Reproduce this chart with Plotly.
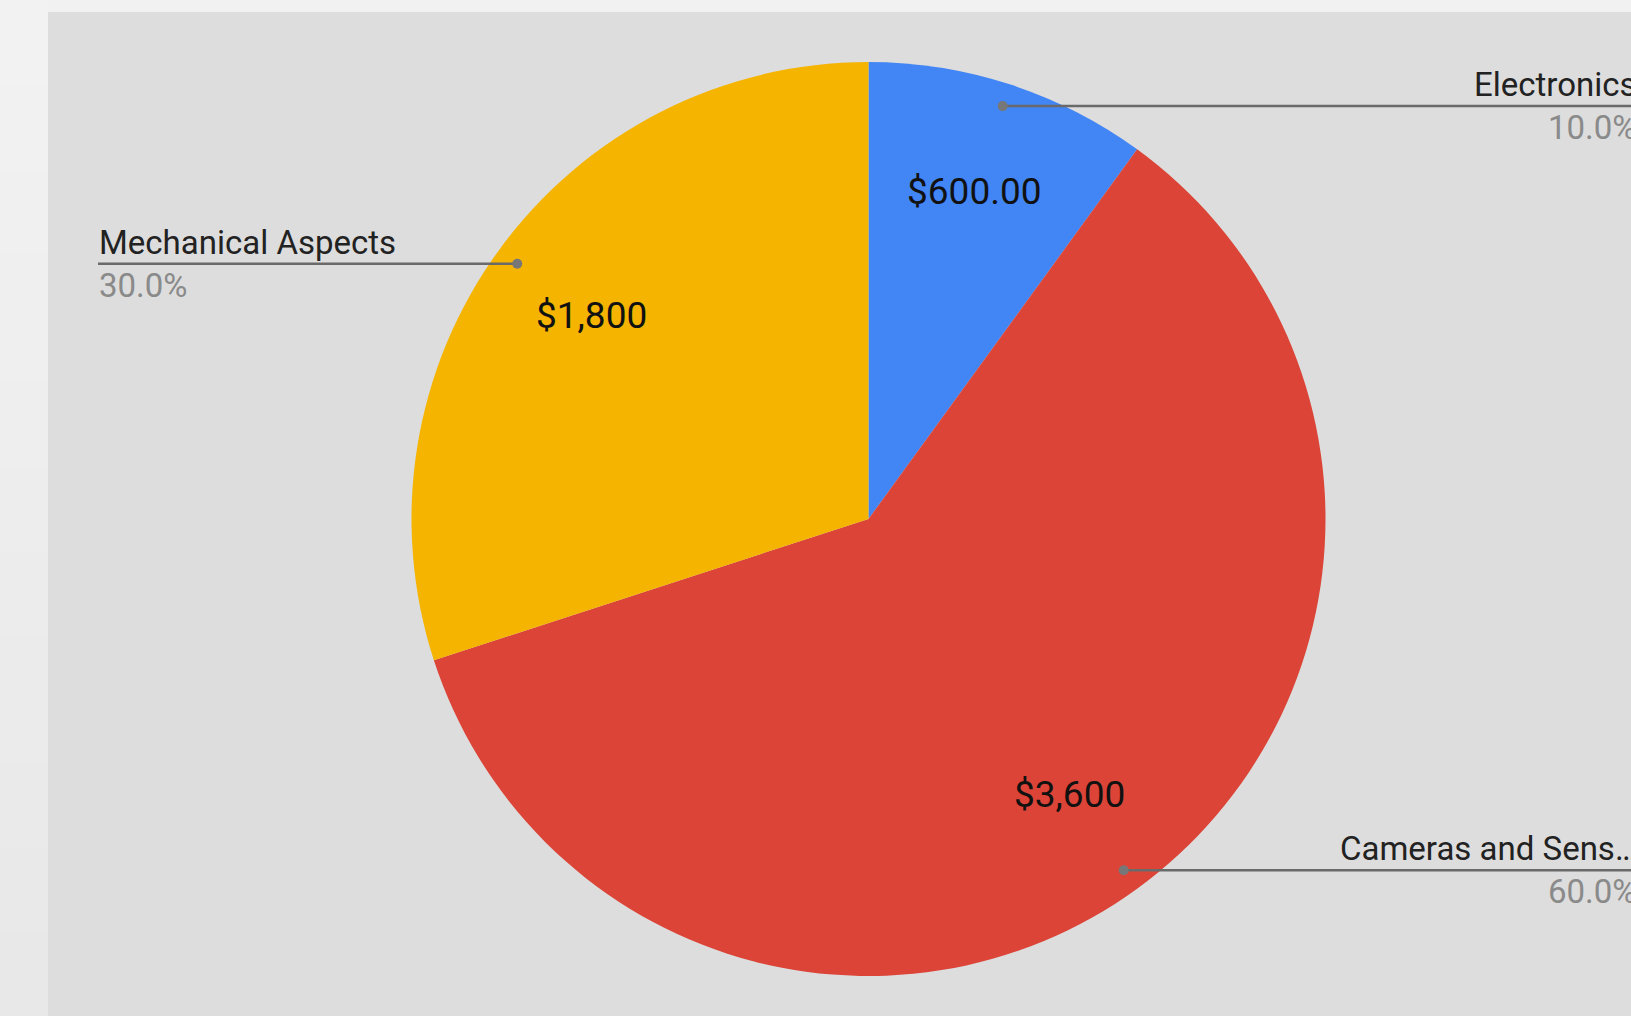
import math
import plotly.graph_objects as go

# ---------------- data ----------------
categories = ["Electronics", "Cameras and Sensors", "Mechanical Aspects"]
values = [600, 3600, 1800]
value_labels = ["$600.00", "$3,600", "$1,800"]
outside_labels = ["Electronics", "Cameras and Sens\u2026", "Mechanical Aspects"]
slice_colors = ["#4285f4", "#db4437", "#f4b400"]

# ---------------- layout constants (px) ----------------
W, H = 1631, 1016
CX, CY, R = 868.5, 519.0, 457.0
PANEL_X, PANEL_Y = 48, 12
RIGHT_TEXT_X = 1638
LEFT_TEXT_X = 98
FONT = "Roboto, Arial, sans-serif"


def px(x):
    return x / W


def py(y):
    return 1 - y / H


fig = go.Figure(
    go.Pie(
        labels=categories,
        values=values,
        sort=False,
        direction="clockwise",
        rotation=0,
        marker=dict(colors=slice_colors, line=dict(width=0)),
        textinfo="none",
        hoverinfo="label+value+percent",
        showlegend=False,
        domain=dict(x=[px(CX - R), px(CX + R)], y=[py(CY + R), py(CY - R)]),
    )
)

shapes = []
# left strip gradient (decoration)
n_bands = 24
for i in range(n_bands):
    t = i / (n_bands - 1)
    c = int(round(242 - t * 10))
    shapes.append(dict(type="rect", xref="paper", yref="paper",
                       x0=0, x1=px(PANEL_X), y0=py(H * (i + 1) / n_bands + 1), y1=py(H * i / n_bands),
                       fillcolor=f"rgb({c},{c},{c})", line=dict(width=0), layer="below"))
# chart panel
shapes.append(dict(type="rect", xref="paper", yref="paper",
                   x0=px(PANEL_X), x1=1.0, y0=0, y1=py(PANEL_Y),
                   fillcolor="#dddddd", line=dict(width=0), layer="below"))

annotations = []
total = sum(values)
cum = 0.0
for name, v, vl, ol in zip(categories, values, value_labels, outside_labels):
    f0 = cum / total
    cum += v
    f1 = cum / total
    mid = (f0 + f1) / 2 * 2 * math.pi
    s, c = math.sin(mid), math.cos(mid)

    # value label inside slice
    vx, vy = CX + 0.75 * R * s, CY - 0.75 * R * c
    annotations.append(dict(x=px(vx), y=py(vy - 2), xref="paper", yref="paper",
                            text=vl, showarrow=False, xanchor="center", yanchor="middle",
                            font=dict(family=FONT, size=37, color="#111111")))

    # leader dot + line
    dx, dy = CX + 0.95 * R * s, CY - 0.95 * R * c
    right = s > 0
    end_x = W + 10 if right else LEFT_TEXT_X
    shapes.append(dict(type="line", xref="paper", yref="paper",
                       x0=px(dx), x1=px(end_x), y0=py(dy), y1=py(dy),
                       line=dict(color="#6a6a6a", width=2.5)))
    shapes.append(dict(type="circle", xref="paper", yref="paper",
                       xsizemode="pixel", ysizemode="pixel",
                       xanchor=px(dx), yanchor=py(dy),
                       x0=-5, x1=5, y0=-5, y1=5,
                       fillcolor="#777777", line=dict(width=0)))

    tx = RIGHT_TEXT_X if right else LEFT_TEXT_X
    xa = "right" if right else "left"
    pct = f"{v / total * 100:.1f}%"
    annotations.append(dict(x=px(tx), y=py(dy - 1), xref="paper", yref="paper",
                            text=ol, showarrow=False, xanchor=xa, yanchor="bottom",
                            borderpad=0,
                            font=dict(family=FONT, size=33, color="#222222")))
    annotations.append(dict(x=px(tx), y=py(dy + 1), xref="paper", yref="paper",
                            text=pct, showarrow=False, xanchor=xa, yanchor="top",
                            borderpad=0,
                            font=dict(family=FONT, size=33, color="#8a8a8a")))

fig.update_layout(
    width=W, height=H,
    margin=dict(l=0, r=0, t=0, b=0),
    paper_bgcolor="#f1f1f1",
    plot_bgcolor="#dddddd",
    shapes=shapes,
    annotations=annotations,
    font=dict(family=FONT),
)

fig.write_html("out.html")
